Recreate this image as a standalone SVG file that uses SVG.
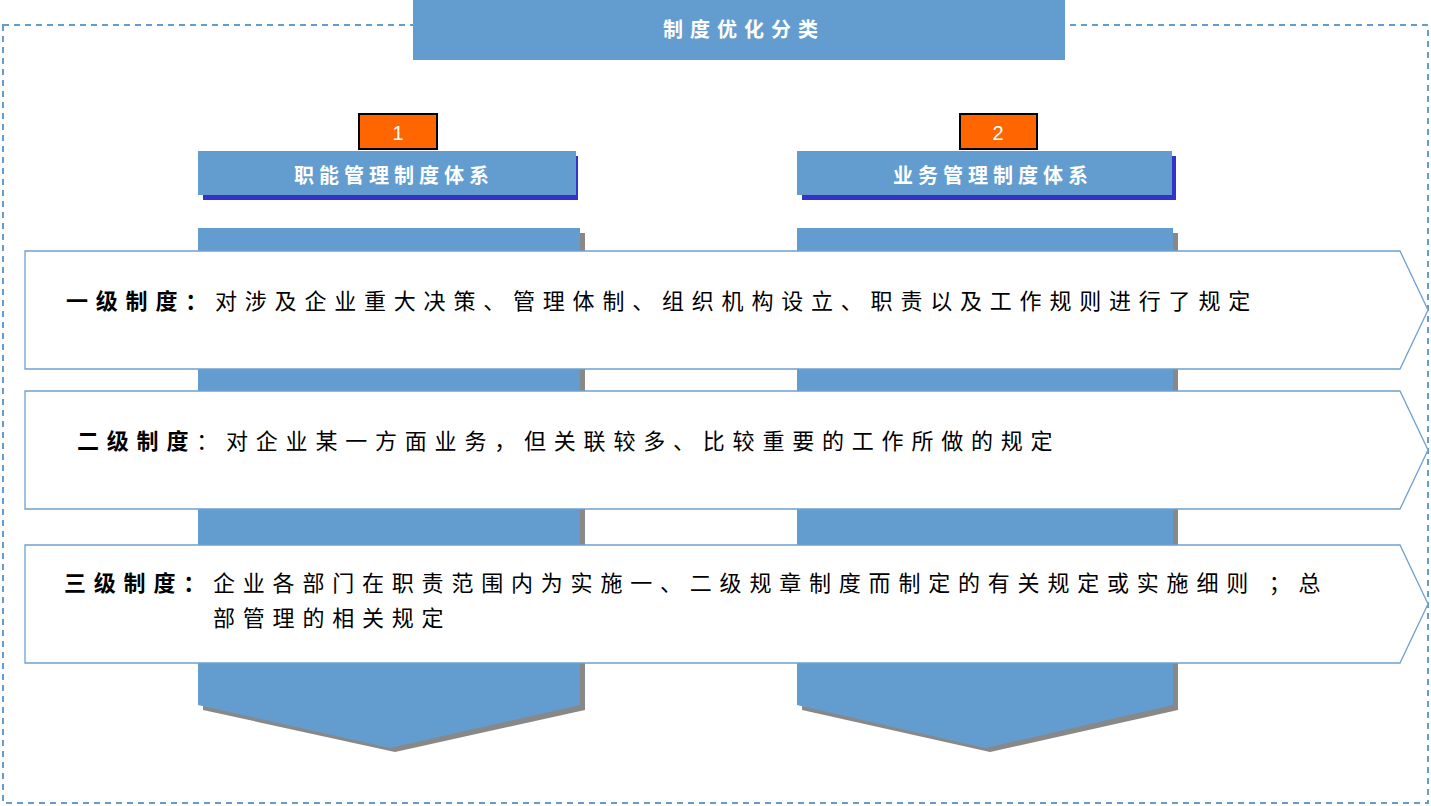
<svg xmlns="http://www.w3.org/2000/svg" width="1431" height="806" viewBox="0 0 1431 806">
<style>
.t{font-family:"Noto Sans CJK SC","Liberation Sans",sans-serif;}
.w{fill:#fff;font-weight:bold;font-size:20px;text-anchor:middle;letter-spacing:5px}
.b{fill:#000;font-size:22px;letter-spacing:7.8px}
.row{fill:#fff;stroke:#6fa0d2;stroke-width:1.3}
.blue{fill:#639dcf}
</style>
<rect x="0" y="0" width="1431" height="806" fill="#fff"/>
<rect x="3" y="25" width="1425" height="778" fill="none" stroke="#639dcf" stroke-width="2" stroke-dasharray="6,5"/>
<g id="title"><rect x="413" y="0" width="652" height="60" class="blue"/><text x="744" y="37" class="t w" font-size="22" style="letter-spacing:7px">制度优化分类</text></g>
<g id="col1">
<polygon points="203,233 585,233 585,710 395,752 203,710" fill="#888"/>
<polygon points="198,228 580,228 580,705 390,748 198,705" class="blue"/>
<rect x="203" y="156" width="375" height="44" fill="#3333cc"/>
<rect x="198" y="151" width="378" height="44" class="blue"/>
<text x="394" y="183" class="t w">职能管理制度体系</text>
<rect x="359" y="114" width="78" height="35" fill="#ff6600" stroke="#000" stroke-width="2"/>
<text x="398" y="140" font-family="Liberation Sans" fill="#fff" font-size="20" text-anchor="middle">1</text>
</g>
<g id="col2">
<polygon points="802,233 1178,233 1178,710 990,752 802,710" fill="#888"/>
<polygon points="797,228 1173,228 1173,705 985,748 797,705" class="blue"/>
<rect x="802" y="156" width="374" height="44" fill="#3333cc"/>
<rect x="797" y="151" width="375" height="44" class="blue"/>
<text x="993" y="183" class="t w">业务管理制度体系</text>
<rect x="960" y="114" width="77" height="35" fill="#ff6600" stroke="#000" stroke-width="2"/>
<text x="998" y="140" font-family="Liberation Sans" fill="#fff" font-size="20" text-anchor="middle">2</text>
</g>
<g id="row1"><polygon points="25,251 1400,251 1428,310 1400,369 25,369" class="row"/>
<text x="66" y="309" class="t b"><tspan font-weight="bold">一级制度：</tspan>对涉及企业重大决策、管理体制、组织机构设立、职责以及工作规则进行了规定</text></g>
<g id="row2"><polygon points="25,391 1400,391 1428,450 1400,509 25,509" class="row"/>
<text x="77" y="449" class="t b"><tspan font-weight="bold">二级制度</tspan>：对企业某一方面业务，但关联较多、比较重要的工作所做的规定</text></g>
<g id="row3"><polygon points="25,545 1400,545 1428,604 1400,663 25,663" class="row"/>
<text x="64" y="591" class="t b"><tspan font-weight="bold">三级制度：</tspan>企业各部门在职责范围内为实施一、二级规章制度而制定的有关规定或实施细则 ；总</text>
<text x="213" y="626" class="t b">部管理的相关规定</text></g>
<g id="connectors"/>
</svg>
